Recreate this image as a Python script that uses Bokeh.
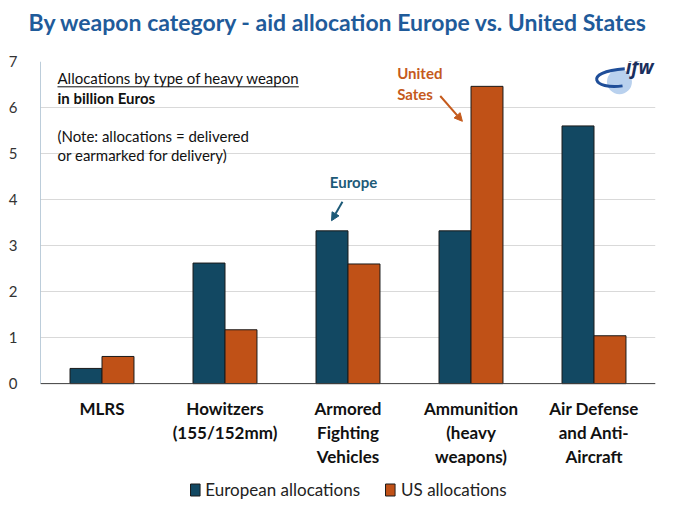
from bokeh.plotting import figure
from bokeh.models import ColumnDataSource, FactorRange, Legend, LegendItem, Arrow, NormalHead, Range1d, Title
from bokeh.transform import dodge
from bokeh.core.properties import value
from bokeh.embed import file_html
from bokeh.resources import INLINE

categories = ["MLRS", "Howitzers\n(155/152mm)", "Armored\nFighting\nVehicles",
              "Ammunition\n(heavy\nweapons)", "Air Defense\nand Anti-\nAircraft"]
europe = [0.33, 2.62, 3.32, 3.32, 5.6]
us = [0.59, 1.17, 2.6, 6.46, 1.04]
yticks = [0, 1, 2, 3, 4, 5, 6, 7]

EU_COL = "#124862"
US_COL = "#C05117"
FONT = "Lato"

src = ColumnDataSource(dict(cat=categories, eu=europe, us=us))

p = figure(width=672, height=502, x_range=FactorRange(*categories, range_padding=0),
           y_range=Range1d(-2.54, 7),
           output_backend="svg", toolbar_location=None,
           min_border_left=40, min_border_right=17, min_border_top=60, min_border_bottom=2)

# spacer between title and plot area
p.add_layout(Title(text=" ", text_font_size="17px", standoff=0), "above")

p.title.text = "By weapon category - aid allocation Europe vs. United States"
p.title.align = "left"
p.title.offset = -12
p.title.text_font = FONT
p.title.text_font_size = "23px"
p.title.text_color = "#1F5B9A"
p.title.text_font_style = "bold"
p.title.standoff = 10

r_eu = p.vbar(x=dodge("cat", -0.13, range=p.x_range), top="eu", bottom=0, width=0.26, source=src,
              fill_color=EU_COL, line_color="#1a1a1a", line_width=1)
r_us = p.vbar(x=dodge("cat", 0.13, range=p.x_range), top="us", bottom=0, width=0.26, source=src,
              fill_color=US_COL, line_color="#1a1a1a", line_width=1)

p.outline_line_color = None
p.xaxis.visible = False
p.xgrid.grid_line_color = None
p.ygrid.grid_line_color = "#D9D9D9"
p.ygrid.grid_line_width = 1
p.yaxis.ticker = yticks
p.yaxis.axis_line_color = None
p.yaxis.major_tick_line_color = None
p.yaxis.minor_tick_line_color = None
p.yaxis.major_label_text_font = FONT
p.yaxis.major_label_text_font_size = "15px"
p.yaxis.major_label_text_color = "#333333"
p.yaxis.major_label_standoff = 17

# axis lines (value axis 0..7, category baseline)
n = len(categories)
p.segment(x0=[0], y0=[yticks[0]], x1=[0], y1=[yticks[-1]], line_color="#7A9BB5", line_width=1)
p.segment(x0=[0], y0=[0], x1=[n], y1=[0], line_color="#404040", line_width=1)

# category labels, one text per line
lx, ly, lt = [], [], []
line_y = [-0.54, -1.06, -1.58]
for c in categories:
    for i, part in enumerate(c.split("\n")):
        lx.append(c)
        ly.append(line_y[i])
        lt.append(part)
p.text(x=lx, y=ly, text=lt, text_font=value(FONT), text_font_size="17px", text_font_style="bold",
       text_align="center", text_baseline="middle", text_color="#111111")

# text box
p.text(x=[0.138], y=[6.65], text=["Allocations by type of heavy weapon"], text_font=value(FONT),
       text_font_size="15px", text_baseline="middle", text_color="#111111")
p.segment(x0=[0.138], y0=[6.45], x1=[2.10], y1=[6.45], line_color="#111111", line_width=1)
p.text(x=[0.138], y=[6.21], text=["in billion Euros"], text_font=value(FONT),
       text_font_size="15px", text_font_style="bold", text_baseline="middle", text_color="#111111")
p.text(x=[0.138, 0.138], y=[5.38, 4.97],
       text=["(Note: allocations = delivered", "or earmarked for delivery)"],
       text_font=value(FONT), text_font_size="15px", text_baseline="middle", text_color="#111111")

# annotations
p.text(x=[2.545], y=[4.38], text=["Europe"], text_font=value(FONT), text_font_size="15px",
       text_font_style="bold", text_align="center", text_baseline="middle", text_color="#1D5A78")
p.add_layout(Arrow(end=NormalHead(size=8, fill_color="#1D5A78", line_color="#1D5A78"),
                   x_start=2.455, y_start=3.95, x_end=2.366, y_end=3.54,
                   line_color="#1D5A78", line_width=2))
p.text(x=[2.90, 2.90], y=[6.75, 6.30], text=["United", "Sates"], text_font=value(FONT),
       text_font_size="15px", text_font_style="bold", text_baseline="middle", text_color="#C55A1C")
p.add_layout(Arrow(end=NormalHead(size=8, fill_color="#C55A1C", line_color="#C55A1C"),
                   x_start=3.25, y_start=6.25, x_end=3.43, y_end=5.70,
                   line_color="#C55A1C", line_width=2))

# logo
p.scatter(x=[4.707], y=[6.56], size=25, marker="circle", fill_color="#B9D1EE", line_color=None)
p.bezier(x0=[4.75], y0=[6.84], x1=[4.732], y1=[6.47], cx0=[4.40], cy0=[6.77], cx1=[4.50], cy1=[6.38],
         line_color="#1F4E99", line_width=3)
p.text(x=[4.87], y=[6.87], text=["ifw"], text_font=value("Open Sans"), text_font_size="19px",
       text_font_style="bold italic", text_align="center", text_baseline="middle", text_color="#1B2F5E")

legend = Legend(items=[LegendItem(label="European allocations", renderers=[r_eu]),
                       LegendItem(label="US allocations", renderers=[r_us])],
                orientation="horizontal", location="bottom_center", border_line_color=None,
                background_fill_alpha=0,
                label_text_font=FONT, label_text_font_size="17px", label_text_color="#222222",
                glyph_width=12, glyph_height=15, spacing=24, padding=2, margin=0)
p.add_layout(legend)

open("out.html", "w").write(file_html(p, INLINE))
